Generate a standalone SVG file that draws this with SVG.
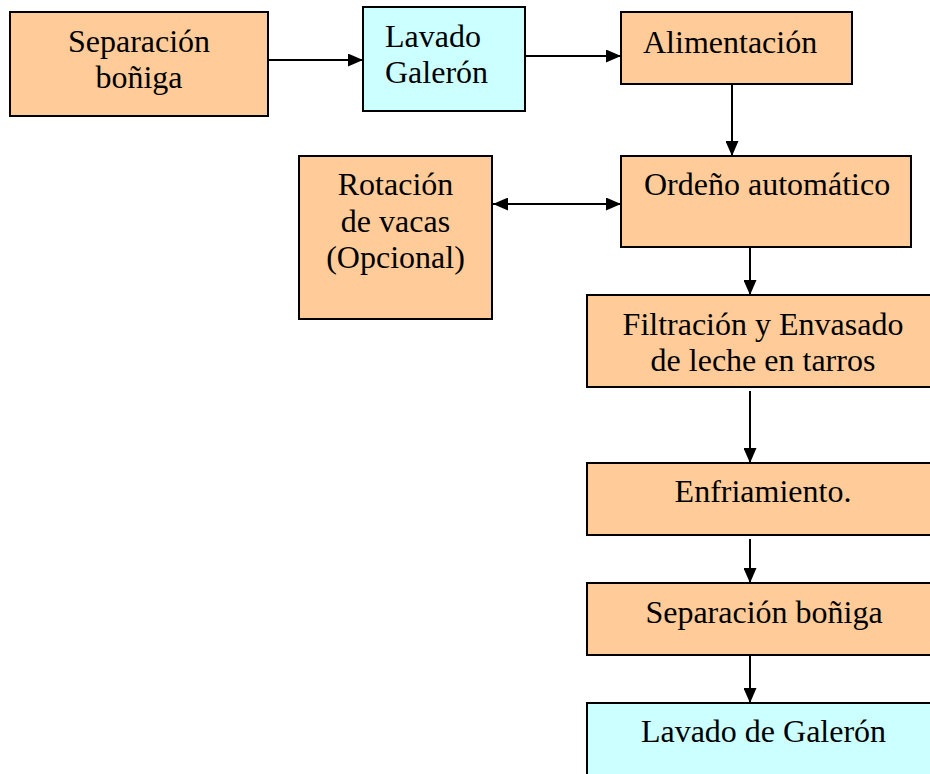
<svg xmlns="http://www.w3.org/2000/svg" width="930" height="774" viewBox="0 0 930 774">
<defs>
<style>
.box{stroke:#000;stroke-width:2}
.o{fill:#FFCC99}
.c{fill:#CCFFFF}
text{font-family:"Liberation Serif","Times New Roman",serif;font-size:32px;fill:#000}
.m{text-anchor:middle}
.conn line{stroke:#000;stroke-width:2;fill:none}
</style>
<marker id="ah" markerUnits="userSpaceOnUse" markerWidth="15" markerHeight="13" refX="15" refY="6.5" orient="auto-start-reverse">
<path d="M0,0 L15,6.5 L0,13 z" fill="#000"/>
</marker>
</defs>
<rect width="930" height="774" fill="#fff"/>
<g id="n1"><rect class="box o" x="10" y="12" width="258" height="104"/><text class="m" x="139" y="52">Separación</text><text class="m" x="139" y="88">boñiga</text></g>
<g id="n2"><rect class="box c" x="363" y="7" width="162" height="104"/><text x="385" y="47">Lavado</text><text x="385" y="83">Galerón</text></g>
<g id="n3"><rect class="box o" x="621" y="12" width="231" height="72"/><text x="643" y="53">Alimentación</text></g>
<g id="n4"><rect class="box o" x="621" y="156" width="290" height="91"/><text x="644" y="195">Ordeño automático</text></g>
<g id="n5"><rect class="box o" x="299" y="156" width="193" height="163"/><text class="m" x="395.5" y="195">Rotación</text><text class="m" x="395.5" y="232">de vacas</text><text class="m" x="395.5" y="268">(Opcional)</text></g>
<g id="n6"><rect class="box o" x="587" y="295" width="353" height="92"/><text class="m" x="763" y="335">Filtración y Envasado</text><text class="m" x="763" y="371">de leche en tarros</text></g>
<g id="n7"><rect class="box o" x="587" y="463" width="353" height="72"/><text class="m" x="763" y="502">Enfriamiento.</text></g>
<g id="n8"><rect class="box o" x="587" y="583" width="353" height="72"/><text class="m" x="764" y="623">Separación boñiga</text></g>
<g id="n9"><rect class="box c" x="587" y="703" width="353" height="90"/><text class="m" x="763.5" y="742">Lavado de Galerón</text></g>
<g id="connectors" class="conn">
<line x1="268" y1="60" x2="363" y2="60" marker-end="url(#ah)"/>
<line x1="525" y1="56" x2="621" y2="56" marker-end="url(#ah)"/>
<line x1="732" y1="84" x2="732" y2="156" marker-end="url(#ah)"/>
<line x1="493" y1="204" x2="621" y2="204" marker-start="url(#ah)" marker-end="url(#ah)"/>
<line x1="750" y1="247" x2="750" y2="295" marker-end="url(#ah)"/>
<line x1="750" y1="391" x2="750" y2="463" marker-end="url(#ah)"/>
<line x1="750" y1="539" x2="750" y2="583" marker-end="url(#ah)"/>
<line x1="750" y1="655" x2="750" y2="703" marker-end="url(#ah)"/>
</g>
</svg>
